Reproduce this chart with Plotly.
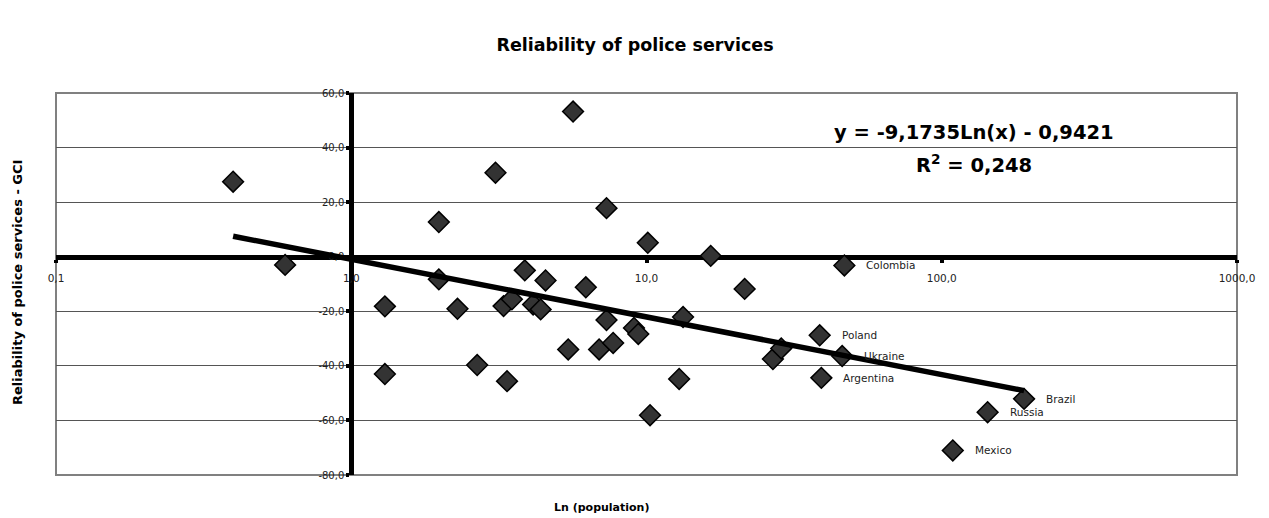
import numpy as np
import plotly.graph_objects as go

# ---- data (population in millions, GCI police reliability) ----
population = [0.398, 0.597, 1.30, 1.30, 1.98, 1.98, 2.29, 2.67, 3.08, 3.28,
              3.37, 3.50, 3.87, 4.13, 4.38, 4.55, 5.43, 5.64, 6.23, 6.91,
              7.32, 7.32, 7.71, 9.07, 9.38, 10.1, 10.28, 12.9, 13.3, 16.5,
              21.5, 26.8, 28.6, 38.6, 39.1, 46.0, 46.8, 109, 143, 190]
reliability = [27.5, -3.0, -18.2, -43.0, 12.7, -8.3, -19.1, -39.7, 30.8, -18.1,
               -45.6, -15.6, -5.0, -17.5, -19.3, -8.7, -34.0, 53.2, -11.2, -34.0,
               17.8, -23.2, -31.6, -26.1, -28.3, 5.1, -58.1, -44.8, -22.1, 0.3,
               -11.8, -37.5, -33.6, -28.8, -44.4, -36.4, -3.2, -71.0, -57.0, -52.1]
country_labels = [""] * 33 + ["Poland", "Argentina", "Ukraine", "Colombia",
                              "Mexico", "Russia", "Brazil"]

trend_slope = -9.1735
trend_intercept = -0.9421
trend_r2 = 0.248

x_tick_vals = [0.1, 1, 10, 100, 1000]
x_tick_text = ["0,1", "1,0", "10,0", "100,0", "1000,0"]
y_tick_vals = [-80, -60, -40, -20, 0, 20, 40, 60]
y_tick_text = [f"{v:.1f}".replace(".", ",") for v in y_tick_vals]

FONT = "DejaVu Sans"

# page body has an 8px margin: figure drawn 8px smaller, offsets below are in figure px
W, H = 1261, 510
L, R, T, B = 48, 32, 85, 43
PW, PH = W - L - R, H - T - B


def px_x(x):
    return (x - L) / PW


def px_y(y):
    return (H - B - y) / PH


fig = go.Figure()

fig.add_trace(go.Scatter(
    x=population, y=reliability, mode="markers",
    marker=dict(symbol="diamond", size=16, color="#333333",
                line=dict(color="black", width=1.5)),
    showlegend=False, hoverinfo="x+y"))

x_trend = np.array([min(population), max(population)])
y_trend = trend_slope * np.log(x_trend) + trend_intercept
fig.add_trace(go.Scatter(
    x=x_trend, y=y_trend, mode="lines",
    line=dict(color="black", width=5.5), showlegend=False, hoverinfo="skip"))

annotations = []
for xv, yv, name in zip(population, reliability, country_labels):
    if name:
        annotations.append(dict(
            x=np.log10(xv), y=yv, xref="x", yref="y", text=name,
            showarrow=False, xanchor="left", yanchor="middle", xshift=20,
            font=dict(family=FONT, size=10.5, color="#222222")))

eq_text = (f"y = {trend_slope:.4f}Ln(x) - {abs(trend_intercept):.4f}").replace(".", ",")
r2_text = f"R<sup>2</sup> = {trend_r2:.3f}".replace(".", ",")
annotations.append(dict(x=px_x(966), y=px_y(124), xref="paper", yref="paper",
                        text=f"<b>{eq_text}</b>", showarrow=False,
                        xanchor="center", yanchor="middle",
                        font=dict(family=FONT, size=19.5, color="black")))
annotations.append(dict(x=px_x(966), y=px_y(156), xref="paper", yref="paper",
                        text=f"<b>{r2_text}</b>", showarrow=False,
                        xanchor="center", yanchor="middle",
                        font=dict(family=FONT, size=19.5, color="black")))
annotations.append(dict(x=px_x(593), y=px_y(499), xref="paper", yref="paper",
                        text="<b>Ln (population)</b>", showarrow=False,
                        xanchor="center", yanchor="middle",
                        font=dict(family=FONT, size=11, color="black")))
annotations.append(dict(x=px_x(9), y=px_y(275), xref="paper", yref="paper",
                        text="<b>Reliability of police services - GCI</b>",
                        showarrow=False, textangle=-90,
                        xanchor="center", yanchor="middle",
                        font=dict(family=FONT, size=13, color="black")))

fig.update_layout(
    width=W, height=H,
    margin=dict(l=L, r=R, t=T, b=B),
    paper_bgcolor="white", plot_bgcolor="white",
    font=dict(family=FONT, color="black"),
    title=dict(text="<b>Reliability of police services</b>",
               x=(627) / W, xref="container", xanchor="center",
               y=1 - 37 / H, yref="container", yanchor="middle",
               font=dict(family=FONT, size=17.5, color="black")),
    xaxis=dict(type="log", range=[-1, 3], anchor="free", position=80 / 140,
               showline=True, linecolor="black", linewidth=5,
               ticks="outside", ticklen=3, tickwidth=4, tickcolor="black",
               tickvals=x_tick_vals, ticktext=x_tick_text,
               tickfont=dict(family=FONT, size=10.5, color="#222222"),
               ticklabelstandoff=7,
               showgrid=False, zeroline=False, layer="below traces"),
    yaxis=dict(range=[-80, 60], anchor="free", position=0.25,
               showline=True, linecolor="black", linewidth=5,
               ticks="outside", ticklen=3, tickwidth=4, tickcolor="black",
               tickvals=y_tick_vals, ticktext=y_tick_text,
               tickfont=dict(family=FONT, size=10, color="#222222"),
               showgrid=True, gridcolor="#555555", gridwidth=1,
               zeroline=False, layer="below traces"),
    shapes=[dict(type="rect", xref="paper", yref="paper", x0=0, x1=1, y0=0, y1=1,
                 line=dict(color="#808080", width=2), layer="below")],
    annotations=annotations,
    showlegend=False,
)

fig.write_html("out.html")
